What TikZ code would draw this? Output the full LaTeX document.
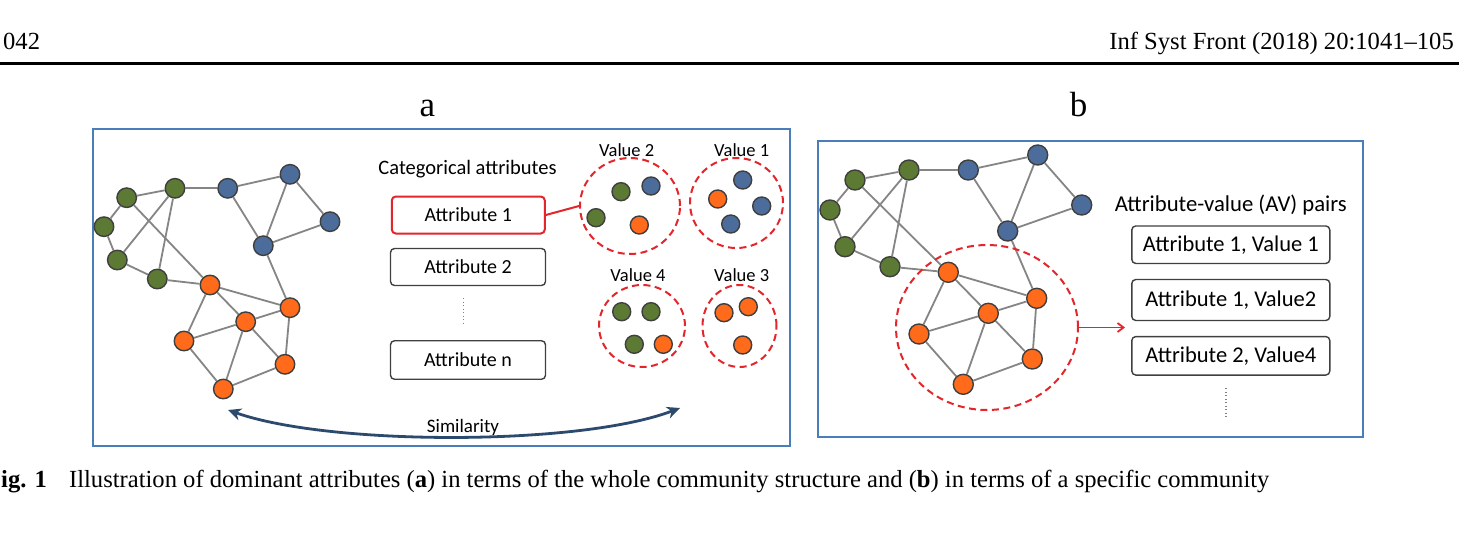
\documentclass[tikz,border=0pt]{standalone}
\usepackage{fontspec}
\setmainfont{Liberation Serif}
\newfontfamily\cfont{Carlito}
\usetikzlibrary{arrows.meta,shapes.geometric}
\definecolor{frameblue}{HTML}{4A7EBB}
\definecolor{gnode}{HTML}{5C7A33}
\definecolor{bnode}{HTML}{4C6D9C}
\definecolor{onode}{HTML}{FF6B1A}
\definecolor{nodeborder}{HTML}{3F3F3F}
\definecolor{edgegray}{HTML}{858585}
\definecolor{redc}{HTML}{E3262B}
\definecolor{navy}{HTML}{2C4A6E}
\definecolor{boxgray}{HTML}{404040}
\begin{document}
\begin{tikzpicture}[x=1pt,y=-1pt,
  vtx/.style={circle,draw=nodeborder,line width=1.4pt,minimum size=19.5pt,inner sep=0pt},
  gv/.style={vtx,fill=gnode},
  bv/.style={vtx,fill=bnode},
  ov/.style={vtx,fill=onode},
  edge/.style={draw=edgegray,line width=1.8pt},
  frame/.style={draw=frameblue,line width=2.6pt},
  attrbox/.style={draw=boxgray,line width=1.4pt,rounded corners=4pt,minimum width=155pt,minimum height=37pt,inner sep=0pt,font=\cfont\fontsize{20}{24}\selectfont},
  pairbox/.style={draw=boxgray,line width=1.4pt,rounded corners=4pt,minimum width=198pt,minimum height=38pt,inner sep=0pt,font=\cfont\fontsize{22.5}{27}\selectfont},
  valring/.style={ellipse,draw=redc,line width=2pt,dash pattern=on 7pt off 4.5pt,inner sep=0pt},
  vallabel/.style={font=\cfont\fontsize{18.5}{22}\selectfont,inner sep=0pt},
  dotline/.style={draw=gray,line width=1.3pt,dash pattern=on 1.3pt off 2.2pt},
  serif/.style={inner sep=0pt,font=\fontsize{24.6}{29}\selectfont}
]
\useasboundingbox (0,0) rectangle (1459,541);
\fill[white] (0,0) rectangle (1459,541);

% header
\node[serif,anchor=base west] (pg) at (3,49.3) {042};
\node[serif,anchor=base east] (jr) at (1454,49.3) {Inf Syst Front (2018) 20:1041–105};
\draw[line width=3.5pt] (0,63.3) -- (1459,63.3);

% panel labels
\node[inner sep=0pt,anchor=base,font=\fontsize{35}{40}\selectfont] (la) at (427.5,116) {a};
\node[inner sep=0pt,anchor=base,font=\fontsize{35}{40}\selectfont] (lb) at (1078.7,116) {b};

% frames
\draw[frame] (93,129) rectangle (790,446);
\draw[frame] (818,141) rectangle (1363,437);

% ---------- left graph ----------
\node[gv] (g1) at (126.7,197.7) {};
\node[gv] (g2) at (175,188.3) {};
\node[gv] (g3) at (104,226.7) {};
\node[gv] (g4) at (117.3,260) {};
\node[gv] (g5) at (157.3,279) {};
\node[bv] (b1) at (227.7,188.3) {};
\node[bv] (b2) at (290,174.3) {};
\node[bv] (b3) at (330,221.7) {};
\node[bv] (b4) at (263.3,245.7) {};
\node[ov] (o1) at (210,285) {};
\node[ov] (o2) at (290,307.7) {};
\node[ov] (o3) at (245.7,321.7) {};
\node[ov] (o4) at (184,341) {};
\node[ov] (o5) at (285,364.3) {};
\node[ov] (o6) at (223.3,389) {};
\foreach \u/\v in {g1/g2,g1/g3,g3/g4,g4/g5,g4/g2,g5/g2,g1/o1,g2/b1,g5/o1,b1/b2,b1/b4,b2/b4,b2/b3,b3/b4,b4/o2,o1/o2,o1/o3,o1/o4,o3/o2,o3/o4,o3/o5,o3/o6,o2/o5,o4/o6,o6/o5}
  \draw[edge] (\u) -- (\v);

% ---------- categorical attributes ----------
\node[inner sep=0pt,font=\cfont\fontsize{20.5}{24}\selectfont] (cat) at (467.5,169.5) {Categorical attributes};
\node[attrbox,draw=redc,line width=2pt,minimum width=153pt] (a1) at (468.3,215) {Attribute 1};
\node[attrbox] (a2) at (468,267) {Attribute 2};
\node[attrbox,minimum height=38.5pt] (an) at (468,360) {Attribute n};
\coordinate (d1) at (463.3,298);
\coordinate (d2) at (463.3,325);
\draw[dotline] (d1) -- (d2);

% ---------- value groups ----------
\node[valring,minimum width=100pt,minimum height=96pt] (v2c) at (630,206) {};
\node[valring,minimum width=93pt,minimum height=90pt] (v1c) at (736.5,203) {};
\node[valring,minimum width=86pt,minimum height=82pt] (v4c) at (642,326) {};
\node[valring,minimum width=74pt,minimum height=82pt] (v3c) at (739.5,326) {};
\node[vallabel] (v2l) at (626.7,150) {Value 2};
\node[vallabel] (v1l) at (741.7,150) {Value 1};
\node[vallabel] (v4l) at (638,275) {Value 4};
\node[vallabel] (v3l) at (741.7,275) {Value 3};
\draw[draw=redc,line width=2pt] (a1.east) -- (v2c.west);

\node[gv,minimum size=18pt] (s21) at (621,191.7) {};
\node[bv,minimum size=18pt] (s22) at (651,186) {};
\node[gv,minimum size=18pt] (s23) at (596,217.7) {};
\node[ov,minimum size=18pt] (s24) at (639.3,225) {};
\node[bv,minimum size=18pt] (s11) at (742.7,180) {};
\node[ov,minimum size=18pt] (s12) at (717.7,199) {};
\node[bv,minimum size=18pt] (s13) at (761.7,206) {};
\node[bv,minimum size=18pt] (s14) at (730.7,224) {};
\node[gv,minimum size=18pt] (s41) at (621.7,311.7) {};
\node[gv,minimum size=18pt] (s42) at (651,311.7) {};
\node[gv,minimum size=18pt] (s43) at (634.3,344.3) {};
\node[ov,minimum size=18pt] (s44) at (663.3,344.3) {};
\node[ov,minimum size=18pt] (s31) at (724,312.7) {};
\node[ov,minimum size=18pt] (s32) at (748.3,306.7) {};
\node[ov,minimum size=18pt] (s33) at (742.7,345) {};

% similarity arrow
\coordinate (sl) at (228,410);
\coordinate (sr) at (680,408);
\draw[navy,line width=2.8pt,{Stealth[length=13pt,width=12pt,inset=4pt]}-{Stealth[length=13pt,width=12pt,inset=4pt]}] (sl) .. controls (330,446) and (580,446) .. (sr);
\node[inner sep=0pt,font=\cfont\fontsize{19}{23}\selectfont] (sim) at (463,427) {Similarity};

% ---------- right graph ----------
\node[gv,minimum size=20pt] (G1) at (855,180) {};
\node[gv,minimum size=20pt] (G2) at (909,170) {};
\node[gv,minimum size=20pt] (G3) at (830,210) {};
\node[gv,minimum size=20pt] (G4) at (845,246.7) {};
\node[gv,minimum size=20pt] (G5) at (890,266.7) {};
\node[bv,minimum size=20pt] (B1) at (968.3,170) {};
\node[bv,minimum size=20pt] (B2) at (1037.7,155) {};
\node[bv,minimum size=20pt] (B3) at (1081.7,205) {};
\node[bv,minimum size=20pt] (B4) at (1007.7,231) {};
\node[ov,minimum size=20pt] (O1) at (948.3,272.3) {};
\node[ov,minimum size=20pt] (O2) at (1036.7,298.3) {};
\node[ov,minimum size=20pt] (O3) at (988.3,313.3) {};
\node[ov,minimum size=20pt] (O4) at (919,334) {};
\node[ov,minimum size=20pt] (O5) at (1032.3,359) {};
\node[ov,minimum size=20pt] (O6) at (963.3,384.3) {};
\foreach \u/\v in {G1/G2,G1/G3,G3/G4,G4/G5,G4/G2,G5/G2,G1/O1,G2/B1,G5/O1,B1/B2,B1/B4,B2/B4,B2/B3,B3/B4,B4/O2,O1/O2,O1/O3,O1/O4,O3/O2,O3/O4,O3/O5,O3/O6,O2/O5,O4/O6,O6/O5}
  \draw[edge] (\u) -- (\v);
\node[valring,minimum width=182pt,minimum height=165pt] (comm) at (987,327.5) {};
\coordinate (arrend) at (1125,327.5);
\draw[draw=redc,line width=1.8pt,-{Straight Barb[length=6pt,width=9pt]}] (comm.east) -- (arrend);

% ---------- AV pairs ----------
\node[inner sep=0pt,font=\cfont\fontsize{22.7}{27}\selectfont] (avt) at (1230.8,205) {Attribute-value (AV) pairs};
\node[pairbox,minimum height=37.5pt] (p1) at (1230.8,244.7) {Attribute 1, Value 1};
\node[pairbox,minimum height=41pt] (p2) at (1230.8,300) {Attribute 1, Value2};
\node[pairbox,minimum height=38.5pt] (p3) at (1230.8,355.8) {Attribute 2, Value4};
\coordinate (e1) at (1226,388);
\coordinate (e2) at (1226,417);
\draw[dotline] (e1) -- (e2);

% caption
\node[serif,anchor=base west] (cap) at (1,487) {\textbf{ig. 1}\hspace{0.9em}Illustration of dominant attributes (\textbf{a}) in terms of the whole community structure and (\textbf{b}) in terms of a specific community};
\end{tikzpicture}
\end{document}
